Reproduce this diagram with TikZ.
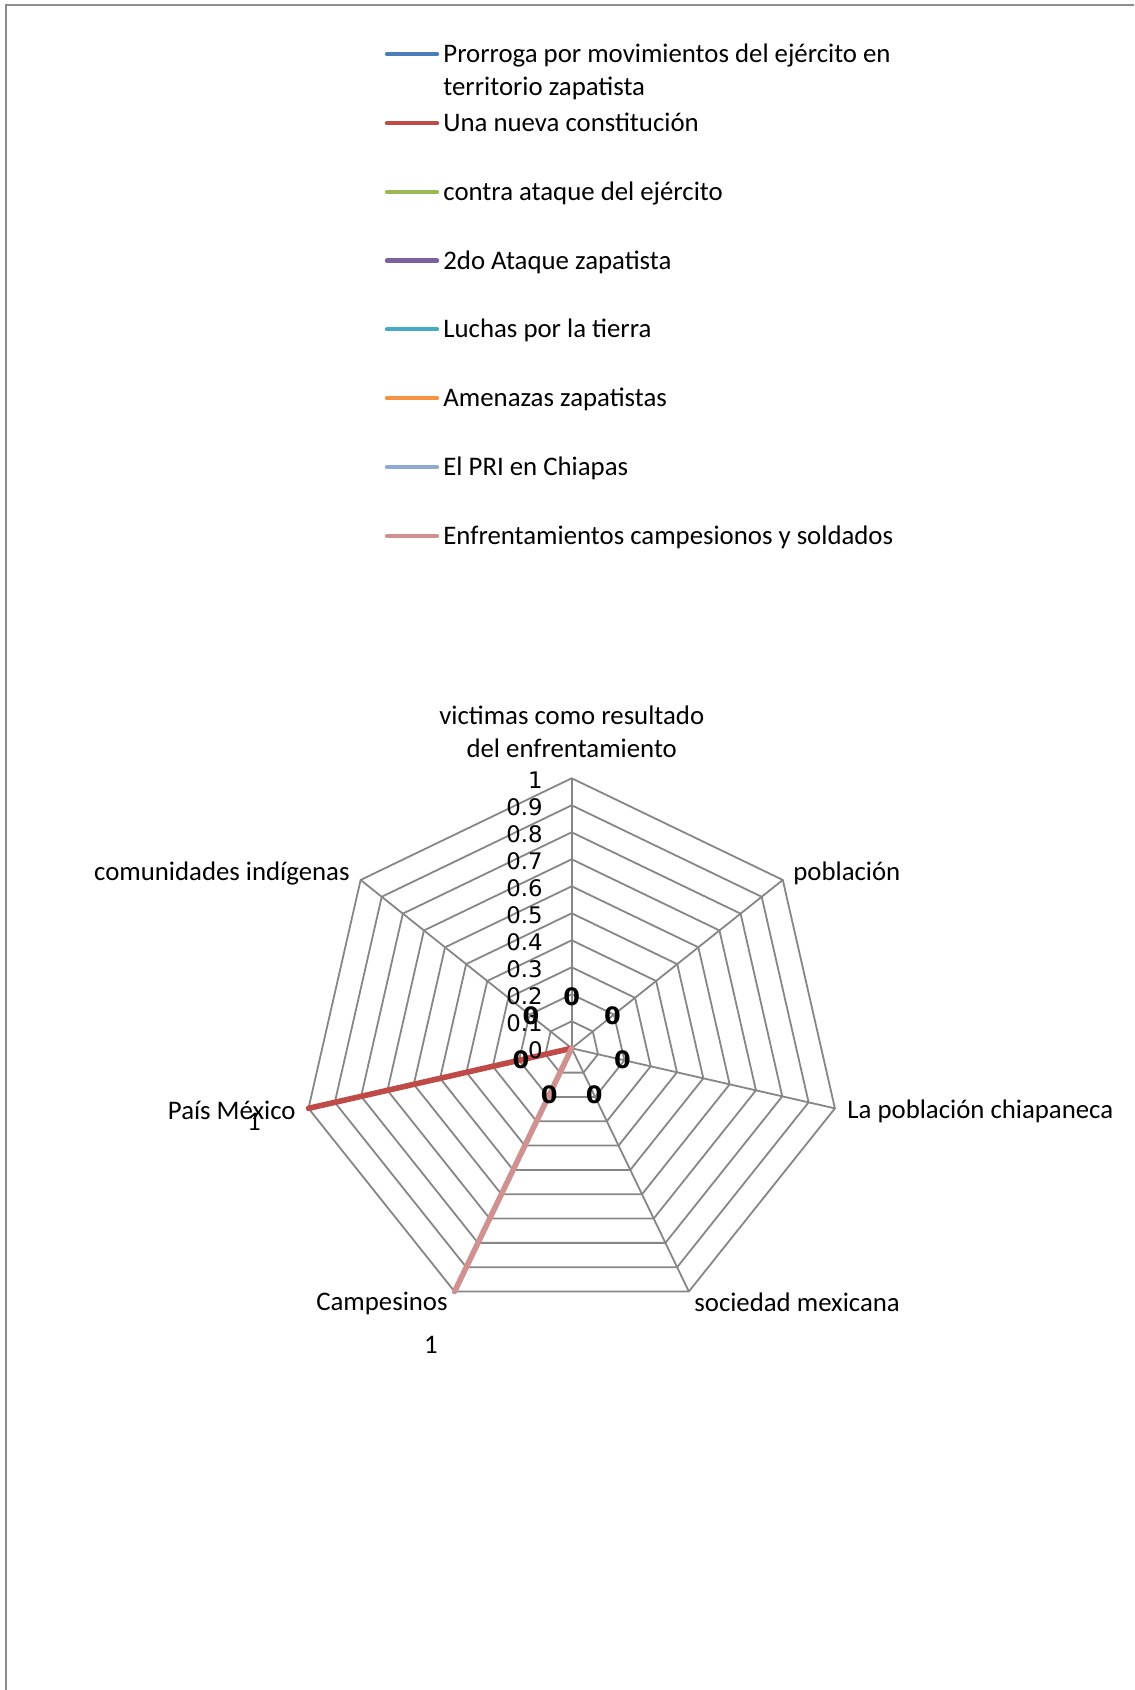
\documentclass[tikz,border=0pt]{standalone}
\usepackage{fontspec}
\setmainfont{Carlito}
\newfontfamily\dejavu{DejaVu Sans}
\usepackage{tikz}
\usetikzlibrary{positioning}
\usetikzlibrary{calc}

\tikzset{
	gridline/.style={line width=0.9pt, color=gridgray},
	serie/.style={line width=2.8pt, line cap=round},
	legline/.style={line width=2.2pt, line cap=round},
	cat/.style={inner sep=0pt, font=\fontsize{13.4}{16.5}\selectfont},
	tick/.style={inner sep=0pt, anchor=east, font=\dejavu\fontsize{11.4}{13}\selectfont},
	zero/.style={inner sep=0pt, font=\dejavu\bfseries\fontsize{12}{14}\selectfont},
}

\begin{document}
\begin{tikzpicture}[x=0.5pt, y=0.5pt]
					\definecolor{gridgray}{RGB}{134,134,134}
					\definecolor{framegray}{RGB}{140,140,140}
					\definecolor{serA}{RGB}{74,126,187}
					\definecolor{serB}{RGB}{190,75,72}
					\definecolor{serC}{RGB}{152,185,84}
					\definecolor{serD}{RGB}{125,96,160}
					\definecolor{serE}{RGB}{70,170,197}
					\definecolor{serF}{RGB}{246,146,64}
					\definecolor{serG}{RGB}{143,169,212}
					\definecolor{serH}{RGB}{208,146,144}
					\useasboundingbox (0,0) rectangle (1134,1690);
					\draw[line width=0.75pt, color=framegray] (6,0) -- (6,1685) -- (1134,1685);
					
					\draw[legline, color=serA] (387,1636) -- (437,1636);
					\node[cat, anchor=base west] (leg1) at (443,1627.3) {Prorroga por movimientos del ejército en};
					\node[cat, anchor=base west] (leg1b) at (443,1594.3) {territorio zapatista};
					\foreach \y/\col/\txt [count=\n from 2] in {1566.7/serB/Una nueva constitución, 1497.7/serC/contra ataque del ejército, 1429.3/serD/2do Ataque zapatista, 1360.7/serE/Luchas por la tierra, 1291.7/serF/Amenazas zapatistas, 1222.7/serG/El PRI en Chiapas, 1154/serH/Enfrentamientos campesionos y soldados}{
						\draw[legline, color=\col] (387,\y) -- (437,\y);
						\node[cat, anchor=base west] (leg\n) at (443,\y-8.7) {\txt};
					}
					
					\begin{scope}[shift={(571.7,641.7)}]
						\coordinate (c) at (0,0);
						\foreach \k in {0,...,6}
							\coordinate (v\k) at ({90-\k*360/7}:270);
						\foreach \i in {1,...,10}
							\draw[gridline] (90:{27*\i}) \foreach \k in {1,...,6}{ -- ({90-\k*360/7}:{27*\i}) } -- cycle;
						\foreach \k in {0,...,6}
							\draw[gridline] (c) -- (v\k);
						
						\draw[serie, color=serB] (c) -- (v5);
						\draw[serie, color=serH] (c) -- (v4);
						
						\foreach \i/\lab in {0/0,1/0.1,2/0.2,3/0.3,4/0.4,5/0.5,6/0.6,7/0.7,8/0.8,9/0.9,10/1}
							\node[tick] (t\i) at (-28.7,{27*\i-1.5}) {\lab};
						\foreach \k in {0,...,6}
							\node[zero] (z\k) at ({90-\k*360/7}:52) {0};
						\node[cat, anchor=center] (one5) at (-317.7,-73.7) {1};
						\node[cat, anchor=center] (one4) at (-140.7,-296.7) {1};
					\end{scope}
					
					\node[cat, align=center] (cat0) at (571.7,958) {victimas como resultado\\del enfrentamiento};
					\node[cat, anchor=base west] (cat1) at (793,809) {población};
					\node[cat, anchor=base west] (cat2) at (847,571) {La población chiapaneca};
					\node[cat, anchor=base west] (cat3) at (694,378) {sociedad mexicana};
					\node[cat, anchor=base east] (cat4) at (448,379) {Campesinos};
					\node[cat, anchor=base east] (cat5) at (296,570) {País México};
					\node[cat, anchor=base east] (cat6) at (350,809) {comunidades indígenas};
\end{tikzpicture}
\end{document}
